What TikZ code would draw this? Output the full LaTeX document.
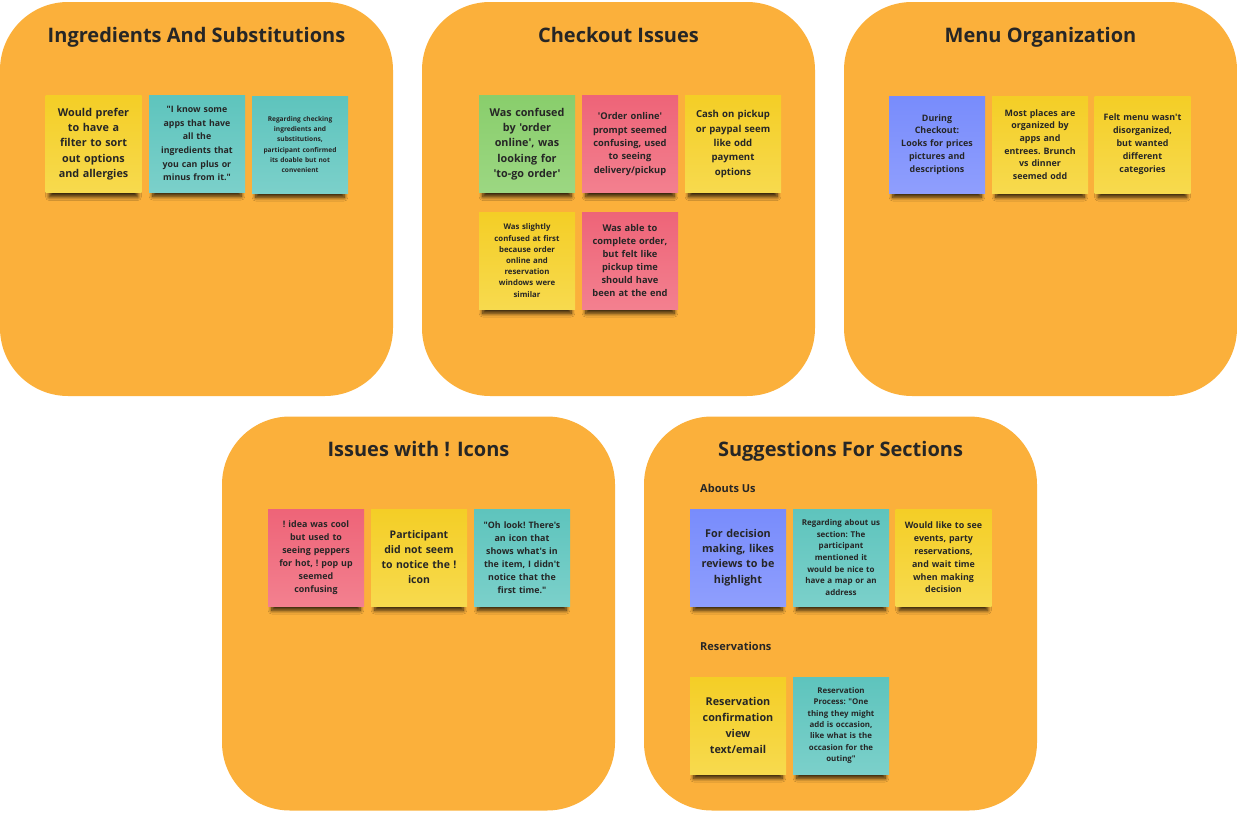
\documentclass[tikz,border=0pt]{standalone}
\usepackage{fontspec}
\setmainfont{Open Sans}[Ligatures=TeXOff]
\usetikzlibrary{positioning,shadows.blur}

\definecolor{boardorange}{HTML}{FBB03B}
\definecolor{inkgray}{HTML}{262626}
\definecolor{yellowtop}{HTML}{F4CE26}
\definecolor{yellowbot}{HTML}{F7DA4E}
\definecolor{tealtop}{HTML}{5EC4BD}
\definecolor{tealbot}{HTML}{7BD0CA}
\definecolor{pinktop}{HTML}{EE6478}
\definecolor{pinkbot}{HTML}{F3808F}
\definecolor{greentop}{HTML}{89CE6C}
\definecolor{greenbot}{HTML}{9CD782}
\definecolor{bluetop}{HTML}{788CFC}
\definecolor{bluebot}{HTML}{8F9EFD}

\tikzset{
  panel/.style={fill=boardorange, draw=none, rounded corners=68pt,
    minimum width=393pt, minimum height=394pt, inner sep=0pt},
  paneltitle/.style={font=\fontsize{20}{24}\selectfont\bfseries, text=inkgray, anchor=base},
  sublabel/.style={font=\fontsize{11}{13}\selectfont\bfseries, text=inkgray, anchor=west, inner sep=0pt},
  note/.style={minimum width=96pt, minimum height=97pt, text width=88pt,
    align=center, inner sep=0pt, text=inkgray,
    blur shadow={shadow xshift=0pt, shadow yshift=-9pt, shadow scale=0.92,
      shadow opacity=80, shadow blur radius=4pt, shadow blur steps=8}},
  yellownote/.style={note, top color=yellowtop, bottom color=yellowbot},
  tealnote/.style={note, top color=tealtop, bottom color=tealbot},
  pinknote/.style={note, top color=pinktop, bottom color=pinkbot},
  greennote/.style={note, top color=greentop, bottom color=greenbot},
  bluenote/.style={note, top color=bluetop, bottom color=bluebot},
  fs/.style 2 args={font=\fontsize{#1}{#2}\selectfont\bfseries\frenchspacing},
}

\begin{document}
\begin{tikzpicture}[x=1pt, y=-1pt]
    \useasboundingbox (0,0) rectangle (1237,814);

    % panels
    \node[panel] (ingpanel) at (196.5,199) {};
    \node[panel] (chkpanel) at (618.5,199) {};
    \node[panel] (menupanel) at (1040.5,199) {};
    \node[panel] (iconpanel) at (418.5,613.5) {};
    \node[panel] (suggpanel) at (840.5,613.5) {};

    \node[paneltitle] (ingtitle) at (196.5,42) {Ingredients And Substitutions};
    \node[paneltitle] (chktitle) at (618.5,42) {Checkout Issues};
    \node[paneltitle] (menutitle) at (1040.5,42) {Menu Organization};
    \node[paneltitle] (icontitle) at (418.5,456) {Issues with ! Icons};
    \node[paneltitle] (suggtitle) at (840.5,456) {Suggestions For Sections};

    % ingredients
    \node[yellownote, fs={10.8}{15.2}] (ing1) at (93.5,144) {Would prefer\\to have a\\filter to sort\\out options\\and allergies};
    \node[tealnote, fs={8.8}{13.6}] (ing2) at (197,143.5) {"I know some\\apps that have\\all the\\ingredients that\\you can plus or\\minus from it."};
    \node[tealnote, fs={6.6}{10.3}] (ing3) at (300,144.5) {Regarding checking\\ingredients and\\substitutions,\\participant confirmed\\its doable but not\\convenient};

    % checkout
    \node[greennote, fs={10.8}{15.2}] (chk1) at (527,144) {Was confused\\by 'order\\online', was\\looking for\\'to-go order'};
    \node[pinknote, fs={9.3}{13.3}] (chk2) at (630,144) {'Order online'\\prompt seemed\\confusing, used\\to seeing\\delivery/pickup};
    \node[yellownote, fs={9.6}{14.4}] (chk3) at (733,144) {Cash on pickup\\or paypal seem\\like odd\\payment\\options};
    \node[yellownote, fs={7.8}{11.2}] (chk4) at (527,260.5) {Was slightly\\confused at first\\because order\\online and\\reservation\\windows were\\similar};
    \node[pinknote, fs={9.3}{13}] (chk5) at (630,260.5) {Was able to\\complete order,\\but felt like\\pickup time\\should have\\been at the end};

    % menu
    \node[bluenote, fs={8.9}{12.9}] (menu1) at (937,144.5) {During\\Checkout:\\Looks for prices\\pictures and\\descriptions};
    \node[yellownote, fs={8.9}{12.7}] (menu2) at (1040,144.5) {Most places are\\organized by\\apps and\\entrees. Brunch\\vs dinner\\seemed odd};
    \node[yellownote, fs={8.9}{13}] (menu3) at (1142.5,144.5) {Felt menu wasn't\\disorganized,\\but wanted\\different\\categories};

    % icons
    \node[pinknote, fs={8.9}{12.9}] (icon1) at (316,557.5) {! idea was cool\\but used to\\seeing peppers\\for hot, ! pop up\\seemed\\confusing};
    \node[yellownote, fs={10.5}{15}] (icon2) at (419,557.5) {Participant\\did not seem\\to notice the !\\icon};
    \node[tealnote, fs={8.9}{12.9}] (icon3) at (522,557.5) {"Oh look! There's\\an icon that\\shows what's in\\the item, I didn't\\notice that the\\first time."};

    % suggestions
    \node[sublabel] (aboutlbl) at (700,488) {Abouts Us};
    \node[bluenote, fs={10.8}{15.3}] (sugg1) at (738,557.5) {For decision\\making, likes\\reviews to be\\highlight};
    \node[tealnote, fs={8}{11.6}] (sugg2) at (841,557.5) {Regarding about us\\section: The\\participant\\mentioned it\\would be nice to\\have a map or an\\address};
    \node[yellownote, fs={8.9}{12.8}] (sugg3) at (943.5,557.5) {Would like to see\\events, party\\reservations,\\and wait time\\when making\\decision};

    \node[sublabel] (reslbl) at (700,646) {Reservations};
    \node[yellownote, fs={10.8}{15.9}] (sugg4) at (738,725.5) {Reservation\\confirmation\\view\\text/email};
    \node[tealnote, fs={7.9}{11.4}] (sugg5) at (841,725.5) {Reservation\\Process: "One\\thing they might\\add is occasion,\\like what is the\\occasion for the\\outing"};
\end{tikzpicture}
\end{document}
